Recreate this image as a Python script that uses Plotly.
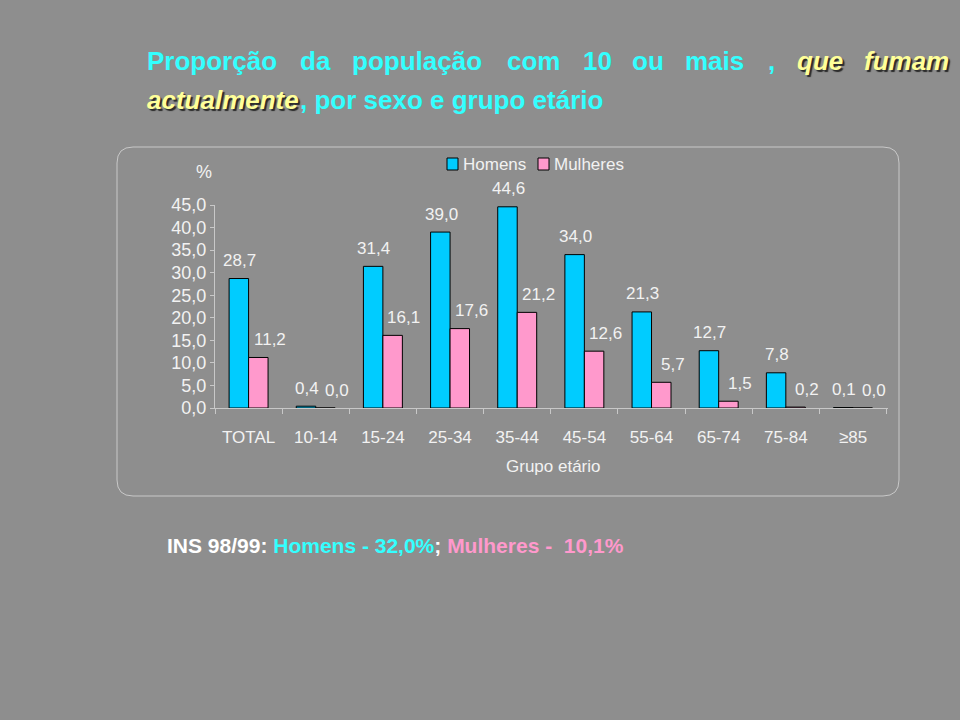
import plotly.graph_objects as go

# data
grupos = ['TOTAL', '10-14', '15-24', '25-34', '35-44', '45-54', '55-64', '65-74', '75-84', '≥85']
homens = [28.7, 0.4, 31.4, 39.0, 44.6, 34.0, 21.3, 12.7, 7.8, 0.1]
mulheres = [11.2, 0.0, 16.1, 17.6, 21.2, 12.6, 5.7, 1.5, 0.2, 0.0]
y_ticks = [0, 5, 10, 15, 20, 25, 30, 35, 40, 45]

BG = '#8e8e8e'
CYAN = '#33ffff'
YELLOW = '#ffff99'
PINK = '#ff99cc'
BLUE = '#00ccff'
TXT = '#f2f2f2'
SHADOW = '2px 2px 1px #2a2a2a'

# plot area in pixels
L, R, T, B = 215, 888, 205, 408


def px(x):
    return (x - L) / (R - L)


def py(y):
    return (B - y) / (B - T)


def fmt(v):
    return f'{v:.1f}'.replace('.', ',')


fig = go.Figure()
fig.add_trace(go.Bar(x=grupos, y=homens, name='Homens', showlegend=False,
                     marker=dict(color=BLUE, line=dict(color='black', width=1))))
fig.add_trace(go.Bar(x=grupos, y=mulheres, name='Mulheres', showlegend=False,
                     marker=dict(color=PINK, line=dict(color='black', width=1))))

ann = []

# value labels
for g, h, m in zip(grupos, homens, mulheres):
    ann.append(dict(text=fmt(h), x=g, y=h, xref='x', yref='y', xshift=-9, yshift=18,
                    showarrow=False, yanchor='middle', font=dict(color=TXT, size=17)))
    ann.append(dict(text=fmt(m), x=g, y=m, xref='x', yref='y', xshift=21, yshift=18,
                    showarrow=False, yanchor='middle', font=dict(color=TXT, size=17)))

# title, line 1 (words spread across like the slide)
title = []
line1 = [('Proporção', 145), ('da', 298), ('população', 350), ('com', 505),
         ('10', 581), ('ou', 630), ('mais', 683), (',', 766)]
for w, x in line1:
    title.append(dict(text=f'<b>{w}</b>', x=px(x), y=py(61), font=dict(color=CYAN, size=26)))
for w, x in [('que', 795), ('fumam', 862)]:
    title.append(dict(text=f'<b><i>{w}</i></b>', x=px(x), y=py(61),
                      font=dict(color=YELLOW, size=26, shadow=SHADOW)))

# title, line 2
title.append(dict(text='<b><i>actualmente</i></b>', x=px(145), y=py(100),
                  font=dict(color=YELLOW, size=26, shadow=SHADOW)))
title.append(dict(text='<b>, por sexo e grupo etário</b>', x=px(298), y=py(100),
                  font=dict(color=CYAN, size=26)))

for a in title:
    a.update(xref='paper', yref='paper', xanchor='left', yanchor='middle', showarrow=False)
ann += title

ann.append(dict(text='%', x=px(194), y=py(172), xref='paper', yref='paper', yanchor='middle',
                showarrow=False, font=dict(color=TXT, size=18)))
ann.append(dict(text='Grupo etário', x=px(553), y=py(466), xref='paper', yref='paper',
                yanchor='middle', showarrow=False, font=dict(color=TXT, size=17)))
ann.append(dict(text='<b>INS 98/99: <span style="color:#33ffff">Homens - 32,0%</span>; '
                     '<span style="color:#ff99cc">Mulheres -  10,1%</span></b>',
                x=px(165), y=py(545), xref='paper', yref='paper', xanchor='left',
                yanchor='middle', showarrow=False, font=dict(color='white', size=21)))

# legend drawn by hand so it sits where the slide has it
shapes = []
for name, color, x in [('Homens', BLUE, 447), ('Mulheres', PINK, 538)]:
    shapes.append(dict(type='rect', xref='paper', yref='paper',
                       x0=px(x), x1=px(x + 11), y0=py(170), y1=py(158),
                       fillcolor=color, line=dict(color='black', width=1)))
    ann.append(dict(text=name, x=px(x + 14), y=py(164), xref='paper', yref='paper',
                    xanchor='left', yanchor='middle', showarrow=False,
                    font=dict(color=TXT, size=17)))

# rounded chart box
x0, y0, x1, y1, r = px(117), py(147), px(899), py(496), 16
rx, ry = r / (R - L), r / (B - T)
box = (f'M {x0 + rx} {y0} L {x1 - rx} {y0} Q {x1} {y0} {x1} {y0 - ry} '
       f'L {x1} {y1 + ry} Q {x1} {y1} {x1 - rx} {y1} '
       f'L {x0 + rx} {y1} Q {x0} {y1} {x0} {y1 + ry} '
       f'L {x0} {y0 - ry} Q {x0} {y0} {x0 + rx} {y0} Z')
shapes.append(dict(type='path', path=box, xref='paper', yref='paper',
                   line=dict(color='#c8c8c8', width=1), layer='below'))

fig.update_layout(
    width=960, height=720,
    paper_bgcolor=BG, plot_bgcolor=BG,
    margin=dict(l=L, r=960 - R, t=T, b=720 - B, autoexpand=False),
    font=dict(family='Liberation Sans, Arial, sans-serif', color=TXT),
    barmode='group', bargap=0.42, bargroupgap=0,
    annotations=ann,
    shapes=shapes,
)
fig.update_xaxes(showline=True, linecolor='#c8c8c8', linewidth=1,
                 ticks='outside', tickson='boundaries', ticklen=5, tickcolor='#c8c8c8',
                 ticklabelstandoff=14,
                 tickfont=dict(size=17, color=TXT), showgrid=False)
fig.update_yaxes(range=[0, 45], showline=True, linecolor='#c8c8c8', linewidth=1,
                 ticks='outside', ticklen=4, tickcolor='#c8c8c8',
                 tickvals=y_ticks, ticktext=[fmt(v) for v in y_ticks],
                 tickfont=dict(size=18, color=TXT), showgrid=False, zeroline=False)

fig.write_html('out.html', config={'displayModeBar': False},
               post_script="document.body.style.margin='0';")
